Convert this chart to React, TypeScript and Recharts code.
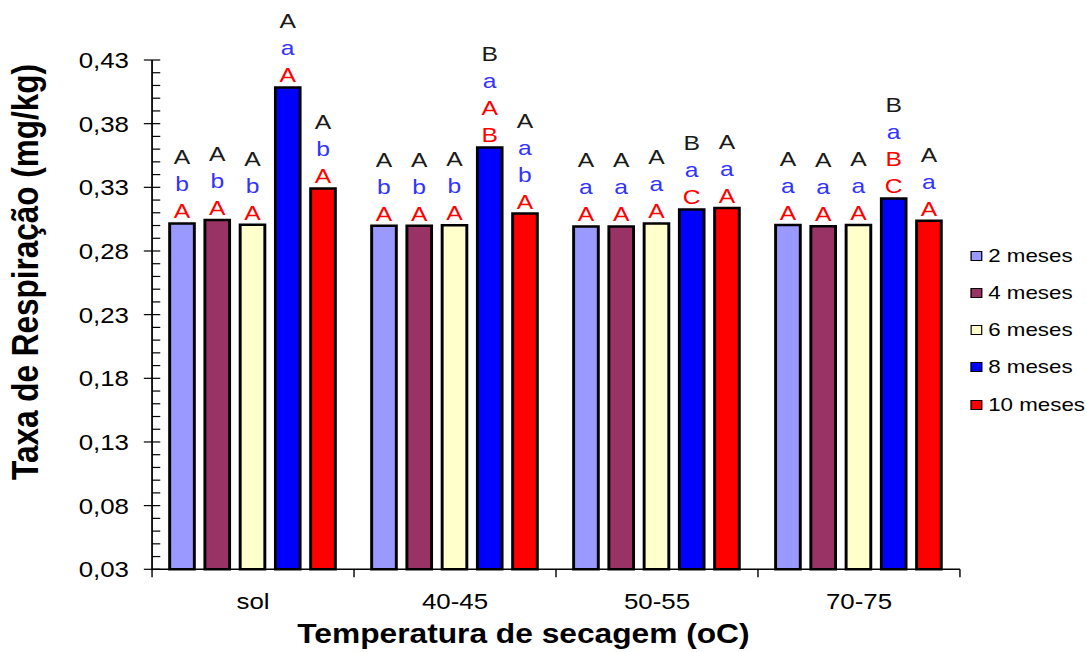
import React from 'react';
import { BarChart, Bar, XAxis, YAxis, LabelList } from 'recharts';

// ---------- data ----------
const CATEGORIES = ['sol', '40-45', '50-55', '70-75'];
const SERIES_NAMES = ['2 meses', '4 meses', '6 meses', '8 meses', '10 meses'];

const M2 = [0.3016, 0.2998, 0.2993, 0.3005];
const M4 = [0.3043, 0.2998, 0.2993, 0.2995];
const M6 = [0.3006, 0.3003, 0.3016, 0.3005];
const M8 = [0.4085, 0.3613, 0.3126, 0.3213];
const M10 = [0.3291, 0.3094, 0.3137, 0.3037];

// significance letters per bar: [red, blue, black], each read top-to-bottom
const SIG_M2 = [['A', 'b', 'A'], ['A', 'b', 'A'], ['A', 'a', 'A'], ['A', 'a', 'A']];
const SIG_M4 = [['A', 'b', 'A'], ['A', 'b', 'A'], ['A', 'a', 'A'], ['A', 'a', 'A']];
const SIG_M6 = [['A', 'b', 'A'], ['A', 'b', 'A'], ['A', 'a', 'A'], ['A', 'a', 'A']];
const SIG_M8 = [['A', 'a', 'A'], ['AB', 'a', 'B'], ['C', 'a', 'B'], ['BC', 'a', 'B']];
const SIG_M10 = [['A', 'b', 'A'], ['A', 'ab', 'A'], ['A', 'a', 'A'], ['A', 'a', 'A']];

const Y_DOMAIN = [0.03, 0.43];
const Y_TICK_LABELS = ['0,03', '0,08', '0,13', '0,18', '0,23', '0,28', '0,33', '0,38', '0,43'];
const Y_TICKS = Array.from({ length: 41 }, (_, i) => (3 + i) / 100);

const X_TITLE = 'Temperatura de secagem (oC)';
const Y_TITLE = 'Taxa de Respiração (mg/kg)';

const DATA = CATEGORIES.map((c, i) => ({
  cat: c,
  m2: M2[i],
  m4: M4[i],
  m6: M6[i],
  m8: M8[i],
  m10: M10[i],
}));

const SERIES = [
  { key: 'm2', name: SERIES_NAMES[0], color: '#9999FF', sig: SIG_M2 },
  { key: 'm4', name: SERIES_NAMES[1], color: '#993366', sig: SIG_M4 },
  { key: 'm6', name: SERIES_NAMES[2], color: '#FFFFCC', sig: SIG_M6 },
  { key: 'm8', name: SERIES_NAMES[3], color: '#0000FF', sig: SIG_M8 },
  { key: 'm10', name: SERIES_NAMES[4], color: '#FF0000', sig: SIG_M10 },
];

// ---------- layout ----------
const SX = 1.175; // horizontal stretch of the reference
const W = 1087 / SX;
const H = 652;
const AX = 129.4; // y axis x
const PLOT_TOP = 60;
const PLOT_BOTTOM = 569.3;
const PLOT_RIGHT = 817;
const BAND = (PLOT_RIGHT - AX) / CATEGORIES.length;
const FONT = "'Liberation Sans', Arial, Helvetica, sans-serif";
const RED = '#FF0000';
const BLUE = '#3333FF';
const DARK = '#1a1a1a';

const YTick = (props: any) => {
  const { y, payload } = props;
  const v = payload.value;
  const i = Math.round(v * 100) - 3;
  const major = i % 5 === 0;
  return (
    <g>
      <line x1={major ? AX - 7 : AX} x2={AX + 7} y1={y} y2={y} stroke="#000" strokeWidth={1.2} />
      {major && (
        <text x={AX - 19.6} y={y + 8} textAnchor="end" fontSize={22} fill="#000" fontFamily={FONT}>
          {Y_TICK_LABELS[i / 5]}
        </text>
      )}
    </g>
  );
};

const XTick = (props: any) => {
  const { x, payload } = props;
  const index = props.index ?? payload.index ?? CATEGORIES.indexOf(payload.value);
  const left = x - BAND / 2;
  return (
    <g>
      <line x1={left} x2={left} y1={PLOT_BOTTOM} y2={PLOT_BOTTOM + 8} stroke="#000" strokeWidth={1.2} />
      {index === CATEGORIES.length - 1 && (
        <line x1={x + BAND / 2} x2={x + BAND / 2} y1={PLOT_BOTTOM} y2={PLOT_BOTTOM + 8} stroke="#000" strokeWidth={1.2} />
      )}
      <text x={x} y={609} textAnchor="middle" fontSize={22} fill="#000" fontFamily={FONT}>
        {payload.value}
      </text>
    </g>
  );
};

const XTitle = () => (
  <text
    x={445.5}
    y={643}
    textAnchor="middle"
    fontSize={27}
    fontWeight="bold"
    fill="#000"
    fontFamily={FONT}
  >
    {X_TITLE}
  </text>
);

const YTitle = () => (
  <text
    x={21.3}
    y={272}
    transform="rotate(-90, 21.3, 272)"
    textAnchor="middle"
    dominantBaseline="central"
    fontSize={31.5}
    fontWeight="bold"
    fill="#000"
    fontFamily={FONT}
  >
    {Y_TITLE}
  </text>
);

const makeSigLabel = (sig: string[][]) => (props: any) => {
  const vb = props.viewBox || {};
  const x = Number(props.x ?? vb.x);
  const y = Number(props.y ?? vb.y);
  const width = Number(props.width ?? vb.width);
  const index = props.index;
  if (index == null || !sig[index]) return null;
  const [red, blue, black] = sig[index];
  const lines = [
    ...black.split('').map((c) => ({ c, fill: DARK })),
    ...blue.split('').map((c) => ({ c, fill: BLUE })),
    ...red.split('').map((c) => ({ c, fill: RED })),
  ];
  const n = lines.length;
  const cx = x + width / 2;
  const base = y - 5;
  return (
    <g>
      {lines.map((l, k) => (
        <text
          key={k}
          x={cx}
          y={base - (n - 1 - k) * 27}
          textAnchor="middle"
          fontSize={21}
          fill={l.fill}
          fontFamily={FONT}
        >
          {l.c}
        </text>
      ))}
    </g>
  );
};

const LEGEND_Y = [256, 293, 330, 367, 405];

export default function App() {
  return (
    <div
      style={{
        position: 'absolute',
        left: 0,
        top: 0,
        width: W,
        height: H,
        transform: `scaleX(${SX})`,
        transformOrigin: '0 0',
        fontFamily: FONT,
        background: '#fff',
      }}
    >
      <BarChart
        width={W}
        height={H}
        data={DATA}
        margin={{ top: PLOT_TOP, right: W - PLOT_RIGHT, left: 0, bottom: 0 }}
        barSize={21}
        barGap={9}
      >
        <XAxis
          dataKey="cat"
          height={H - PLOT_BOTTOM}
          interval={0}
          tickLine={false}
          axisLine={{ stroke: '#000', strokeWidth: 1.5 }}
          tick={XTick}
          label={{ value: X_TITLE, content: XTitle }}
        />
        <YAxis
          type="number"
          width={AX}
          domain={Y_DOMAIN}
          ticks={Y_TICKS}
          interval={0}
          tickLine={false}
          axisLine={{ stroke: '#000', strokeWidth: 1.5 }}
          tick={YTick}
          label={{ value: Y_TITLE, content: YTitle }}
        />
        {SERIES.map((s) => (
          <Bar
            key={s.key}
            dataKey={s.key}
            name={s.name}
            fill={s.color}
            stroke="#000"
            strokeWidth={2.5}
            isAnimationActive={false}
          >
            <LabelList dataKey={s.key} content={makeSigLabel(s.sig)} />
          </Bar>
        ))}
      </BarChart>
      <div style={{ position: 'absolute', left: 0, top: 0, width: W, height: H, pointerEvents: 'none' }}>
        {SERIES.map((s, i) => (
          <div key={s.key}>
            <div
              style={{
                position: 'absolute',
                left: 826.4,
                top: LEGEND_Y[i] - 5,
                width: 10,
                height: 10,
                boxSizing: 'border-box',
                border: '1.5px solid #000',
                background: s.color,
              }}
            />
            <div
              style={{
                position: 'absolute',
                left: 841,
                top: LEGEND_Y[i] - 11,
                height: 22,
                lineHeight: '22px',
                fontSize: 19,
                color: '#000',
                whiteSpace: 'nowrap',
              }}
            >
              {s.name}
            </div>
          </div>
        ))}
      </div>
    </div>
  );
}
